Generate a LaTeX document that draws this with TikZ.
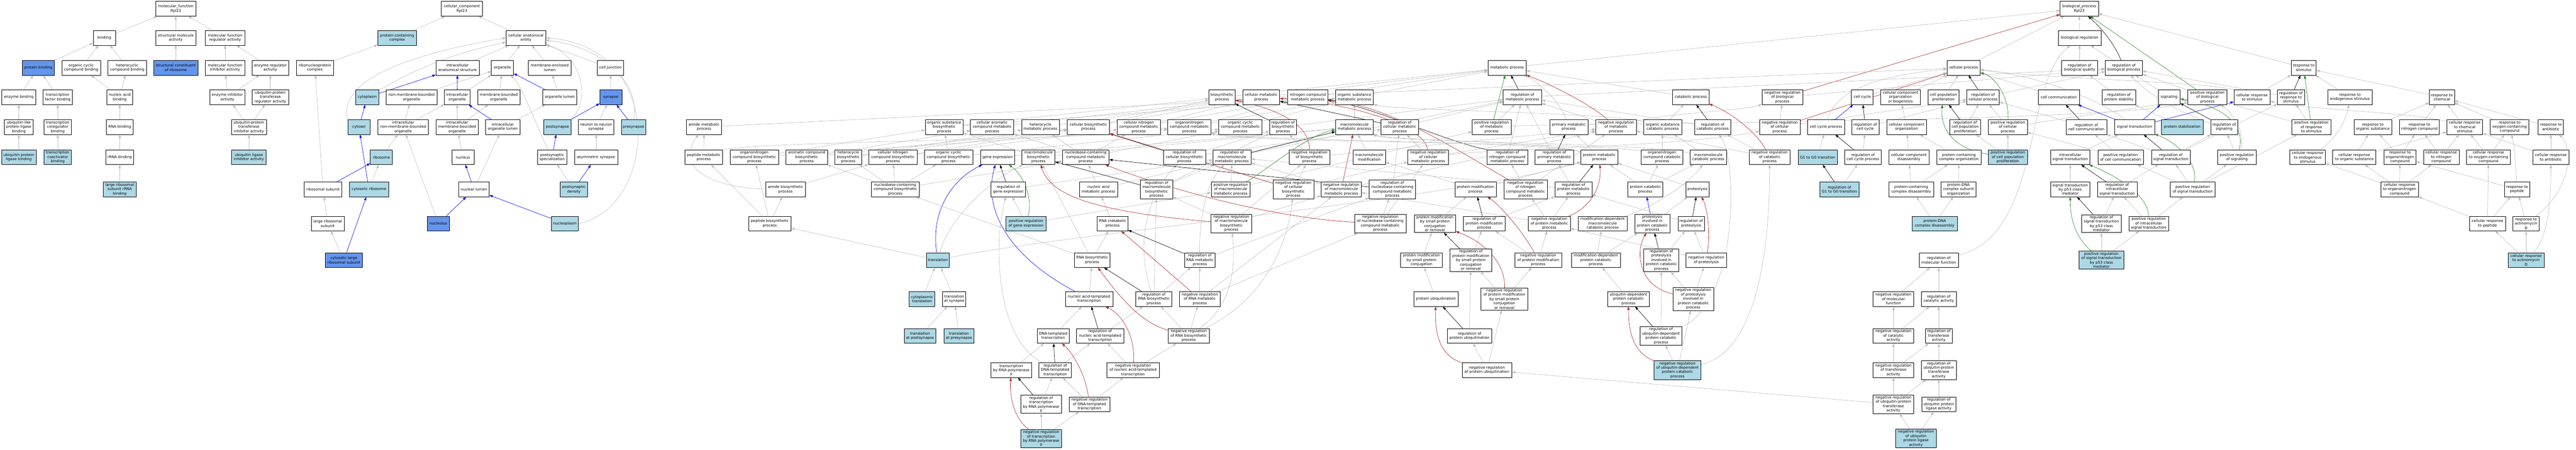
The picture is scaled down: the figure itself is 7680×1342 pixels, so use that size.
\documentclass[tikz,border=0pt]{standalone}
\usepackage{fontspec}
\setmainfont{DejaVu Sans}
\usetikzlibrary{arrows.meta, backgrounds}
\definecolor{edgegray}{RGB}{190,190,190}
\definecolor{hitblue}{RGB}{173,216,230}
\definecolor{coreblue}{RGB}{100,149,237}
\definecolor{posgreen}{RGB}{34,139,34}
\definecolor{negred}{RGB}{178,34,34}
\newcommand{\termfont}{\fontsize{11}{13}\selectfont}
\tikzstyle{term} = [rectangle, draw=black, line width=1pt, fill=white, minimum height=44pt, inner xsep=2pt, inner ysep=3pt, align=center, font=\termfont]
\tikzstyle{hitterm} = [term, fill=hitblue]
\tikzstyle{coreterm} = [term, fill=coreblue]
\tikzstyle{arrow} = [draw=edgegray, line width=1pt, -{Triangle[length=10pt, width=7pt]}]
\tikzstyle{partof} = [arrow, draw=blue]
\tikzstyle{regline} = [arrow, draw=black]
\tikzstyle{posline} = [arrow, draw=posgreen]
\tikzstyle{negline} = [arrow, draw=negred]

\begin{document}
\begin{tikzpicture}[x=1pt, y=-1pt]
	\useasboundingbox (0,0) rectangle (7680,1342);
	%----------------------------------------------------%
	% molecular function
	\node(mf) [term, minimum width=119] at (524,26) {molecular\_function\\Rpl23};
	\node(bind) [term, minimum width=66] at (311,113) {binding};
	\node(sma) [term, minimum width=120] at (524,113) {structural molecule\\activity};
	\node(mfra) [term, minimum width=117] at (671,113) {molecular function\\regulator activity};
	\node(pbind) [coreterm, minimum width=95] at (114,202) {protein binding};
	\node(occb) [term, minimum width=115] at (242,202) {organic cyclic\\compound binding};
	\node(hcb) [term, minimum width=115] at (379,202) {heterocyclic\\compound binding};
	\node(scr) [coreterm, minimum width=132] at (524,202) {structural constituent\\of ribosome};
	\node(mfia) [term, minimum width=117] at (671,202) {molecular function\\inhibitor activity};
	\node(era) [term, minimum width=110] at (806,202) {enzyme regulator\\activity};
	\node(ebind) [term, minimum width=101] at (56,290) {enzyme binding};
	\node(tfbind) [term, minimum width=88] at (172,290) {transcription\\factor binding};
	\node(nabind) [term, minimum width=76] at (357,290) {nucleic acid\\binding};
	\node(eia) [term, minimum width=105] at (678,290) {enzyme inhibitor\\activity};
	\node(uptra) [term, minimum width=108] at (806,290) {ubiquitin-protein\\transferase\\regulator activity};
	\node(ulplb) [term, minimum width=86] at (56,379) {ubiquitin-like\\protein ligase\\binding};
	\node(tcrb) [term, minimum width=81] at (172,379) {transcription\\coregulator\\binding};
	\node(rnabind) [term, minimum width=79] at (357,379) {RNA binding};
	\node(uptia) [term, minimum width=105] at (742,379) {ubiquitin-protein\\transferase\\inhibitor activity};
	\node(uplb) [hitterm, minimum width=103] at (56,469) {ubiquitin protein\\ligase binding};
	\node(tcab) [hitterm, minimum width=81] at (172,469) {transcription\\coactivator\\binding};
	\node(rrnabind) [term, minimum width=83] at (357,469) {rRNA binding};
	\node(ulia) [hitterm, minimum width=103] at (742,469) {ubiquitin ligase\\inhibitor activity};
	\node(lrsrb) [hitterm, minimum width=98] at (357,565) {large ribosomal\\subunit rRNA\\binding};
	%----------------------------------------------------%
	% cellular component
	\node(cc) [term, minimum width=122] at (1377,26) {cellular\_component\\Rpl23};
	\node(pcc) [hitterm, minimum width=115] at (1184,113) {protein-containing\\complex};
	\node(cae) [term, minimum width=119] at (1568,113) {cellular anatomical\\entity};
	\node(rnpc) [term, minimum width=110] at (939,202) {ribonucleoprotein\\complex};
	\node(ias) [term, minimum width=129] at (1364,202) {intracellular\\anatomical structure};
	\node(organelle) [term, minimum width=66] at (1498,202) {organelle};
	\node(mel) [term, minimum width=127] at (1639,202) {membrane-enclosed\\lumen};
	\node(celljunc) [term, minimum width=78] at (1820,202) {cell junction};
	\node(cytoplasm) [hitterm, minimum width=68] at (1095,290) {cytoplasm};
	\node(nmbo) [term, minimum width=152] at (1227,290) {non-membrane-bounded\\organelle};
	\node(iorg) [term, minimum width=76] at (1363,290) {intracellular\\organelle};
	\node(mbo) [term, minimum width=126] at (1487,290) {membrane-bounded\\organelle};
	\node(orglumen) [term, minimum width=102] at (1669,290) {organelle lumen};
	\node(synapse) [coreterm, minimum width=66] at (1821,290) {synapse};
	\node(cytosol) [hitterm, minimum width=66] at (1070,379) {cytosol};
	\node(inmbo) [term, minimum width=151] at (1202,379) {intracellular\\non-membrane-bounded\\organelle};
	\node(imbo) [term, minimum width=127] at (1363,379) {intracellular\\membrane-bounded\\organelle};
	\node(iol) [term, minimum width=102] at (1499,379) {intracellular\\organelle lumen};
	\node(postsyn) [hitterm, minimum width=81] at (1662,379) {postsynapse};
	\node(nnsyn) [term, minimum width=107] at (1777,379) {neuron to neuron\\synapse};
	\node(presyn) [hitterm, minimum width=73] at (1889,379) {presynapse};
	\node(ribosome) [hitterm, minimum width=66] at (1137,469) {ribosome};
	\node(nucleus) [term, minimum width=66] at (1380,469) {nucleus};
	\node(pss) [term, minimum width=88] at (1646,469) {postsynaptic\\specialization};
	\node(asyn) [term, minimum width=129] at (1777,469) {asymmetric synapse};
	\node(rsu) [term, minimum width=112] at (963,565) {ribosomal subunit};
	\node(cribo) [hitterm, minimum width=117] at (1100,565) {cytosolic ribosome};
	\node(nlumen) [term, minimum width=91] at (1413,565) {nuclear lumen};
	\node(psd) [hitterm, minimum width=82] at (1711,565) {postsynaptic\\density};
	\node(lrsu) [term, minimum width=98] at (977,667) {large ribosomal\\subunit};
	\node(nucleolus) [coreterm, minimum width=65] at (1307,667) {nucleolus};
	\node(nucleoplasm) [hitterm, minimum width=81] at (1684,667) {nucleoplasm};
	\node(clrsu) [coreterm, minimum width=112] at (1025,776) {cytosolic large\\ribosomal subunit};
	%----------------------------------------------------%
	% biological process
	\node(bp) [term, minimum width=114] at (6199,26) {biological\_process\\Rpl23};
	\node(bioreg) [term, minimum width=127] at (6200,113) {biological regulation};
	\node(metab) [term, minimum width=114] at (4493,202) {metabolic process};
	\node(cellproc) [term, minimum width=99] at (5854,202) {cellular process};
	\node(rbq) [term, minimum width=108] at (6200,202) {regulation of\\biological quality};
	\node(rbp) [term, minimum width=111] at (6332,202) {regulation of\\biological process};
	\node(respstim) [term, minimum width=75] at (6868,202) {response to\\stimulus};
	% rank 3
	\node(biosyn) [term, minimum width=78] at (3643,290) {biosynthetic\\process};
	\node(cellmet) [term, minimum width=110] at (3760,290) {cellular metabolic\\process};
	\node(ncmp) [term, minimum width=119] at (3899,290) {nitrogen compound\\metabolic process};
	\node(osmp) [term, minimum width=113] at (4038,290) {organic substance\\metabolic process};
	\node(regmet) [term, minimum width=115] at (4539,290) {regulation of\\metabolic process};
	\node(catab) [term, minimum width=108] at (5041,290) {catabolic process};
	\node(nrbp) [term, minimum width=121] at (5314,290) {negative regulation\\of biological\\process};
	\node(cellcycle) [term, minimum width=64] at (5552,290) {cell cycle};
	\node(ccob) [term, minimum width=118] at (5666,290) {cellular component\\organization\\or biogenesis};
	\node(cpp) [term, minimum width=92] at (5794,290) {cell population\\proliferation};
	\node(rcp) [term, minimum width=97] at (5912,290) {regulation of\\cellular process};
	\node(cellcomm) [term, minimum width=123] at (6138,290) {cell communication};
	\node(rps) [term, minimum width=99] at (6317,290) {regulation of\\protein stability};
	\node(signaling) [term, minimum width=65] at (6467,290) {signaling};
	\node(prbp) [term, minimum width=116] at (6581,290) {positive regulation\\of biological\\process};
	\node(crstim) [term, minimum width=108] at (6714,290) {cellular response\\to stimulus};
	\node(rrstim) [term, minimum width=81] at (6830,290) {regulation of\\response to\\stimulus};
	\node(rendo) [term, minimum width=132] at (7006,290) {response to\\endogenous stimulus};
	\node(rchem) [term, minimum width=75] at (7280,290) {response to\\chemical};
	% rank 4
	\node(amidemet) [term, minimum width=105] at (2099,379) {amide metabolic\\process};
	\node(osbio) [term, minimum width=112] at (2815,379) {organic substance\\biosynthetic\\process};
	\node(camet) [term, minimum width=129] at (2958,379) {cellular aromatic\\compound metabolic\\process};
	\node(hetmet) [term, minimum width=112] at (3102,379) {heterocycle\\metabolic process};
	\node(cellbio) [term, minimum width=126] at (3245,379) {cellular biosynthetic\\process};
	\node(cncmet) [term, minimum width=128] at (3395,379) {cellular nitrogen\\compound metabolic\\process};
	\node(oncmet) [term, minimum width=129] at (3546,379) {organonitrogen\\compound metabolic\\process};
	\node(occmet) [term, minimum width=129] at (3698,379) {organic cyclic\\compound metabolic\\process};
	\node(rbio) [term, minimum width=81] at (3825,379) {regulation of\\biosynthetic\\process};
	\node(mmet) [term, minimum width=113] at (4038,379) {macromolecule\\metabolic process};
	\node(rcmet) [term, minimum width=111] at (4173,379) {regulation of\\cellular metabolic\\process};
	\node(prmet) [term, minimum width=116] at (4447,379) {positive regulation\\of metabolic\\process};
	\node(primet) [term, minimum width=114] at (4677,379) {primary metabolic\\process};
	\node(nrmet) [term, minimum width=121] at (4818,379) {negative regulation\\of metabolic\\process};
	\node(oscat) [term, minimum width=114] at (4957,379) {organic substance\\catabolic process};
	\node(rcat) [term, minimum width=108] at (5106,379) {regulation of\\catabolic process};
	\node(nrcp) [term, minimum width=121] at (5306,379) {negative regulation\\of cellular\\process};
	\node(ccproc) [term, minimum width=111] at (5444,379) {cell cycle process};
	\node(rcc) [term, minimum width=81] at (5561,379) {regulation of\\cell cycle};
	\node(cco) [term, minimum width=118] at (5684,379) {cellular component\\organization};
	\node(rcpp) [term, minimum width=92] at (5859,379) {regulation of\\cell population\\proliferation};
	\node(prcp) [term, minimum width=116] at (5986,379) {positive regulation\\of cellular\\process};
	\node(rccomm) [term, minimum width=121] at (6220,379) {regulation of\\cell communication};
	\node(sigtrans) [term, minimum width=119] at (6364,379) {signal transduction};
	\node(pstab) [hitterm, minimum width=124] at (6506,379) {protein stabilization};
	\node(rsig) [term, minimum width=80] at (6631,379) {regulation of\\signaling};
	\node(prrstim) [term, minimum width=117] at (6891,379) {positive regulation\\of response\\to stimulus};
	\node(rorg) [term, minimum width=112] at (7074,379) {response to\\organic substance};
	\node(rnitro) [term, minimum width=119] at (7213,379) {response to\\nitrogen compound};
	\node(crchem) [term, minimum width=107] at (7348,379) {cellular response\\to chemical\\stimulus};
	\node(roxy) [term, minimum width=115] at (7482,379) {response to\\oxygen-containing\\compound};
	\node(ranti) [term, minimum width=75] at (7605,379) {response to\\antibiotic};
	% rank 5
	\node(pepmet) [term, minimum width=112] at (2098,469) {peptide metabolic\\process};
	\node(oncbio) [term, minimum width=145] at (2249,469) {organonitrogen\\compound biosynthetic\\process};
	\node(acbio) [term, minimum width=124] at (2405,469) {aromatic compound\\biosynthetic\\process};
	\node(hetbio) [term, minimum width=79] at (2529,469) {heterocycle\\biosynthetic\\process};
	\node(cncbio) [term, minimum width=144] at (2662,469) {cellular nitrogen\\compound biosynthetic\\process};
	\node(occbio) [term, minimum width=144] at (2828,469) {organic cyclic\\compound biosynthetic\\process};
	\node(genexp) [term, minimum width=102] at (2974,469) {gene expression};
	\node(mbio) [term, minimum width=98] at (3096,469) {macromolecule\\biosynthetic\\process};
	\node(ncmet) [term, minimum width=139] at (3237,469) {nucleobase-containing\\compound metabolic\\process};
	\node(rcbio) [term, minimum width=126] at (3531,469) {regulation of\\cellular biosynthetic\\process};
	\node(rmmet) [term, minimum width=114] at (3673,469) {regulation of\\macromolecule\\metabolic process};
	\node(nrbio) [term, minimum width=121] at (3904,469) {negative regulation\\of biosynthetic\\process};
	\node(mmod) [term, minimum width=97] at (4082,469) {macromolecule\\modification};
	\node(nrcmet) [term, minimum width=121] at (4258,469) {negative regulation\\of cellular\\metabolic process};
	\node(rncmet) [term, minimum width=120] at (4494,469) {regulation of\\nitrogen compound\\metabolic process};
	\node(rprimet) [term, minimum width=115] at (4634,469) {regulation of\\primary metabolic\\process};
	\node(protmet) [term, minimum width=110] at (4768,469) {protein metabolic\\process};
	\node(onccat) [term, minimum width=124] at (4955,469) {organonitrogen\\compound catabolic\\process};
	\node(mcat) [term, minimum width=108] at (5093,469) {macromolecule\\catabolic process};
	\node(nrcat) [term, minimum width=121] at (5276,469) {negative regulation\\of catabolic\\process};
	\node(g1g0) [hitterm, minimum width=117] at (5419,469) {G1 to G0 transition};
	\node(rccp) [term, minimum width=110] at (5554,469) {regulation of\\cell cycle process};
	\node(ccdis) [term, minimum width=119] at (5691,469) {cellular component\\disassembly};
	\node(pcco) [term, minimum width=133] at (5840,469) {protein-containing\\complex organization};
	\node(prcpp) [hitterm, minimum width=117] at (5986,469) {positive regulation\\of cell population\\proliferation};
	\node(ist) [term, minimum width=118] at (6172,469) {intracellular\\signal transduction};
	\node(prccomm) [term, minimum width=135] at (6322,469) {positive regulation\\of cell communication};
	\node(rst) [term, minimum width=116] at (6472,469) {regulation of\\signal transduction};
	\node(prsig) [term, minimum width=116] at (6669,469) {positive regulation\\of signaling};
	\node(crendo) [term, minimum width=106] at (6880,469) {cellular response\\to endogenous\\stimulus};
	\node(crorg) [term, minimum width=129] at (7019,469) {cellular response\\to organic substance};
	\node(ronc) [term, minimum width=95] at (7155,469) {response to\\organonitrogen\\compound};
	\node(crnitro) [term, minimum width=106] at (7278,469) {cellular response\\to nitrogen\\compound};
	\node(croxy) [term, minimum width=131] at (7419,469) {cellular response\\to oxygen-containing\\compound};
	\node(cranti) [term, minimum width=107] at (7605,469) {cellular response\\to antibiotic};
	% rank 6
	\node(amidebio) [term, minimum width=119] at (2342,565) {amide biosynthetic\\process};
	\node(ncbio) [term, minimum width=143] at (2669,565) {nucleobase-containing\\compound biosynthetic\\process};
	\node(rge) [term, minimum width=103] at (3006,565) {regulation of\\gene expression};
	\node(nameta) [term, minimum width=114] at (3275,565) {nucleic acid\\metabolic process};
	\node(rmbio) [term, minimum width=97] at (3448,565) {regulation of\\macromolecule\\biosynthetic\\process};
	\node(prmmet) [term, minimum width=116] at (3669,565) {positive regulation\\of macromolecule\\metabolic process};
	\node(nrcbio) [term, minimum width=121] at (3856,565) {negative regulation\\of cellular\\biosynthetic\\process};
	\node(nrmmet) [term, minimum width=120] at (3999,565) {negative regulation\\of macromolecule\\metabolic process};
	\node(rnbmet) [term, minimum width=138] at (4151,565) {regulation of\\nucleobase-containing\\compound metabolic\\process};
	\node(protmod) [term, minimum width=123] at (4399,565) {protein modification\\process};
	\node(nrncmet) [term, minimum width=129] at (4548,565) {negative regulation\\of nitrogen\\compound metabolic\\process};
	\node(rprotmet) [term, minimum width=110] at (4691,565) {regulation of\\protein metabolic\\process};
	\node(protcat) [term, minimum width=105] at (4905,565) {protein catabolic\\process};
	\node(proteolysis) [term, minimum width=70] at (5061,565) {proteolysis};
	\node(rg1g0) [hitterm, minimum width=117] at (5484,565) {regulation of\\G1 to G0 transition};
	\node(pccdis) [term, minimum width=134] at (5698,565) {protein-containing\\complex disassembly};
	\node(pdcso) [term, minimum width=105] at (5839,565) {protein-DNA\\complex subunit\\organization};
	\node(stp53) [term, minimum width=118] at (6172,565) {signal transduction\\by p53 class\\mediator};
	\node(rist) [term, minimum width=118] at (6312,565) {regulation of\\intracellular\\signal transduction};
	\node(prst) [term, minimum width=133] at (6537,565) {positive regulation\\of signal transduction};
	\node(cronc) [term, minimum width=112] at (7154,565) {cellular response\\to organonitrogen\\compound};
	\node(rpep) [term, minimum width=75] at (7504,565) {response to\\peptide};
	% rank 7
	\node(pepbio) [term, minimum width=126] at (2295,667) {peptide biosynthetic\\process};
	\node(prge) [hitterm, minimum width=119] at (3059,667) {positive regulation\\of gene expression};
	\node(rnamet) [term, minimum width=92] at (3317,667) {RNA metabolic\\process};
	\node(nrmbio) [term, minimum width=121] at (3671,667) {negative regulation\\of macromolecule\\biosynthetic\\process};
	\node(nrnbmet) [term, minimum width=154] at (4115,667) {negative regulation\\of nucleobase-containing\\compound metabolic\\process};
	\node(pmspcr) [term, minimum width=124] at (4278,667) {protein modification\\by small protein\\conjugation\\or removal};
	\node(rprotmod) [term, minimum width=124] at (4425,667) {regulation of\\protein modification\\process};
	\node(nrprotmet) [term, minimum width=126] at (4619,667) {negative regulation\\of protein metabolic\\process};
	\node(mdmcat) [term, minimum width=146] at (4778,667) {modification-dependent\\macromolecule\\catabolic process};
	\node(pipcat) [term, minimum width=105] at (4926,667) {proteolysis\\involved in\\protein catabolic\\process};
	\node(rprot) [term, minimum width=79] at (5042,667) {regulation of\\proteolysis};
	\node(pdnadis) [hitterm, minimum width=134] at (5768,667) {protein-DNA\\complex disassembly};
	\node(rstp53) [term, minimum width=118] at (6265,667) {regulation of\\signal transduction\\by p53 class\\mediator};
	\node(prist) [term, minimum width=118] at (6406,667) {positive regulation\\of intracellular\\signal transduction};
	\node(crpep) [term, minimum width=107] at (7416,667) {cellular response\\to peptide};
	\node(ractd) [term, minimum width=79] at (7531,667) {response to\\actinomycin\\D};
	% rank 8
	\node(transl) [hitterm, minimum width=69] at (2796,776) {translation};
	\node(rnabio) [term, minimum width=107] at (3256,776) {RNA biosynthetic\\process};
	\node(rrnamet) [term, minimum width=92] at (3577,776) {regulation of\\RNA metabolic\\process};
	\node(pmspc) [term, minimum width=124] at (4238,776) {protein modification\\by small protein\\conjugation};
	\node(rpmspcr) [term, minimum width=124] at (4385,776) {regulation of\\protein modification\\by small protein\\conjugation\\or removal};
	\node(nrprotmod) [term, minimum width=140] at (4586,776) {negative regulation\\of protein modification\\process};
	\node(mdpcat) [term, minimum width=146] at (4758,776) {modification-dependent\\protein catabolic\\process};
	\node(rpipcat) [term, minimum width=104] at (4953,776) {regulation of\\proteolysis\\involved in\\protein catabolic\\process};
	\node(nrprot) [term, minimum width=121] at (5087,776) {negative regulation\\of proteolysis};
	\node(rmf) [term, minimum width=116] at (5780,776) {regulation of\\molecular function};
	\node(prstp53) [hitterm, minimum width=133] at (6265,776) {positive regulation\\of signal transduction\\by p53 class\\mediator};
	\node(cractd) [hitterm, minimum width=107] at (7531,776) {cellular response\\to actinomycin\\D};
	% rank 9
	\node(cyttransl) [hitterm, minimum width=77] at (2749,892) {cytoplasmic\\translation};
	\node(translsyn) [term, minimum width=69] at (2845,892) {translation\\at synapse};
	\node(nattr) [term, minimum width=141] at (3247,892) {nucleic acid-templated\\transcription};
	\node(rrnabio) [term, minimum width=108] at (3440,892) {regulation of\\RNA biosynthetic\\process};
	\node(nrrnamet) [term, minimum width=121] at (3577,892) {negative regulation\\of RNA metabolic\\process};
	\node(protubiq) [term, minimum width=133] at (4281,892) {protein ubiquitination};
	\node(nrpmspcr) [term, minimum width=140] at (4485,892) {negative regulation\\of protein modification\\by small protein\\conjugation\\or removal};
	\node(upcat) [term, minimum width=123] at (4855,892) {ubiquitin-dependent\\protein catabolic\\process};
	\node(nrpipcat) [term, minimum width=121] at (5048,892) {negative regulation\\of proteolysis\\involved in\\protein catabolic\\process};
	\node(nrmf) [term, minimum width=121] at (5645,892) {negative regulation\\of molecular\\function};
	\node(rca) [term, minimum width=104] at (5780,892) {regulation of\\catalytic activity};
	% rank 10
	\node(translpost) [hitterm, minimum width=94] at (2743,1002) {translation\\at postsynapse};
	\node(translpre) [hitterm, minimum width=90] at (2859,1002) {translation\\at presynapse};
	\node(dnatr) [term, minimum width=95] at (3140,1002) {DNA-templated\\transcription};
	\node(rnattr) [term, minimum width=141] at (3280,1002) {regulation of\\nucleic acid-templated\\transcription};
	\node(nrrnabio) [term, minimum width=122] at (3544,1002) {negative regulation\\of RNA biosynthetic\\process};
	\node(rprotubiq) [term, minimum width=132] at (4381,1002) {regulation of\\protein ubiquitination};
	\node(rupcat) [term, minimum width=124] at (4952,1002) {regulation of\\ubiquitin-dependent\\protein catabolic\\process};
	\node(nrca) [term, minimum width=121] at (5645,1002) {negative regulation\\of catalytic\\activity};
	\node(rta) [term, minimum width=80] at (5780,1002) {regulation of\\transferase\\activity};
	% rank 11
	\node(trp2) [term, minimum width=122] at (3015,1104) {transcription\\by RNA polymerase\\II};
	\node(rdnatr) [term, minimum width=97] at (3146,1104) {regulation of\\DNA-templated\\transcription};
	\node(nrnattr) [term, minimum width=156] at (3378,1104) {negative regulation\\of nucleic acid-templated\\transcription};
	\node(nrprotubiq) [term, minimum width=148] at (4433,1104) {negative regulation\\of protein ubiquitination};
	\node(nrupcat) [hitterm, minimum width=141] at (5001,1104) {negative regulation\\of ubiquitin-dependent\\protein catabolic\\process};
	\node(nrta) [term, minimum width=121] at (5645,1104) {negative regulation\\of transferase\\activity};
	\node(rupta) [term, minimum width=104] at (5780,1104) {regulation of\\ubiquitin-protein\\transferase\\activity};
	% rank 12 and 13
	\node(rtrp2) [term, minimum width=122] at (3104,1206) {regulation of\\transcription\\by RNA polymerase\\II};
	\node(nrdnatr) [term, minimum width=122] at (3248,1206) {negative regulation\\of DNA-templated\\transcription};
	\node(nrupta) [term, minimum width=121] at (5645,1206) {negative regulation\\of ubiquitin-protein\\transferase\\activity};
	\node(rupla) [term, minimum width=102] at (5780,1206) {regulation of\\ubiquitin protein\\ligase activity};
	\node(nrtrp2) [hitterm, minimum width=122] at (3104,1308) {negative regulation\\of transcription\\by RNA polymerase\\II};
	\node(nrupla) [hitterm, minimum width=121] at (5712,1308) {negative regulation\\of ubiquitin\\protein ligase\\activity};

	\begin{pgfonlayer}{background}
	\fill[white] (0,0) rectangle (7680,1342);
	%----------------------------------------------------%
	% molecular function edges
	\draw[arrow] (bind) -- (mf);
	\draw[arrow] (sma) -- (mf);
	\draw[arrow] (mfra) -- (mf);
	\draw[arrow] (pbind) -- (bind);
	\draw[arrow] (occb) -- (bind);
	\draw[arrow] (hcb) -- (bind);
	\draw[arrow] (scr) -- (sma);
	\draw[arrow] (mfia) -- (mfra);
	\draw[arrow] (era) -- (mfra);
	\draw[arrow] (ebind) -- (pbind);
	\draw[arrow] (tfbind) -- (pbind);
	\draw[arrow] (nabind) -- (occb);
	\draw[arrow] (nabind) -- (hcb);
	\draw[arrow] (eia) -- (mfia);
	\draw[arrow] (eia) -- (era);
	\draw[arrow] (uptra) -- (era);
	\draw[arrow] (ulplb) -- (ebind);
	\draw[arrow] (tcrb) -- (tfbind);
	\draw[arrow] (rnabind) -- (nabind);
	\draw[arrow] (uptia) -- (eia);
	\draw[arrow] (uptia) -- (uptra);
	\draw[arrow] (uplb) -- (ulplb);
	\draw[arrow] (tcab) -- (tcrb);
	\draw[arrow] (rrnabind) -- (rnabind);
	\draw[arrow] (ulia) -- (uptia);
	\draw[arrow] (lrsrb) -- (rrnabind);
	%----------------------------------------------------%
	% cellular component edges
	\draw[arrow] (pcc) -- (cc);
	\draw[arrow] (cae) -- (cc);
	\draw[arrow] (rnpc) -- (pcc);
	\draw[arrow] (ias) -- (cae);
	\draw[arrow] (organelle) -- (cae);
	\draw[arrow] (mel) -- (cae);
	\draw[arrow] (celljunc) -- (cae);
	\draw[arrow] (cytoplasm) .. controls (1250,200) and (1350,160) .. (cae);
	\draw[arrow] (cytosol.north west) .. controls (1020,300) and (1050,190) .. (cae.west);
	\draw[arrow] (postsyn.north east) .. controls (1760,300) and (1740,170) .. (cae);
	\draw[arrow] (presyn.north) .. controls (1910,250) and (1800,140) .. (cae);
	\draw[arrow] (nucleoplasm.east) .. controls (1960,620) and (1990,140) .. (cae.east);
	\draw[arrow] (nmbo) -- (organelle);
	\draw[arrow] (iorg) -- (organelle);
	\draw[arrow] (mbo) -- (organelle);
	\draw[arrow] (pss) .. controls (1600,380) and (1560,260) .. (organelle);
	\draw[arrow] (orglumen) -- (mel);
	\draw[arrow] (synapse) -- (celljunc);
	\draw[arrow] (inmbo) -- (nmbo);
	\draw[arrow] (inmbo) -- (iorg);
	\draw[arrow] (imbo) -- (iorg);
	\draw[arrow] (imbo) -- (mbo);
	\draw[arrow] (iol) -- (orglumen);
	\draw[arrow] (nnsyn) -- (synapse);
	\draw[arrow] (ribosome) -- (inmbo);
	\draw[arrow] (nucleus) -- (imbo);
	\draw[arrow] (asyn) -- (nnsyn);
	\draw[arrow] (rsu) -- (rnpc);
	\draw[arrow] (cribo) -- (ribosome);
	\draw[arrow] (nlumen) -- (iol);
	\draw[arrow] (psd) -- (pss);
	\draw[arrow] (lrsu) -- (rsu);
	\draw[arrow] (nucleolus) -- (inmbo);
	\draw[arrow] (clrsu) -- (lrsu);
	\draw[partof] (cytoplasm) -- (ias);
	\draw[partof] (iorg) -- (ias);
	\draw[partof] (orglumen) -- (organelle);
	\draw[partof] (iol) -- (iorg);
	\draw[partof] (postsyn) -- (synapse);
	\draw[partof] (presyn) -- (synapse);
	\draw[partof] (cytosol) -- (cytoplasm);
	\draw[partof] (rsu) -- (ribosome);
	\draw[partof] (cribo) -- (cytosol);
	\draw[partof] (nlumen) -- (nucleus);
	\draw[partof] (pss) -- (postsyn);
	\draw[partof] (psd) -- (asyn);
	\draw[partof] (clrsu) -- (cribo);
	\draw[partof] (nucleolus) -- (nlumen);
	\draw[partof] (nucleoplasm) -- (nlumen);
	%----------------------------------------------------%
	% biological process edges, top
	\draw[arrow] (bioreg) -- (bp);
	\draw[arrow] (metab) -- (bp);
	\draw[arrow] (cellproc) -- (bp);
	\draw[arrow] (respstim) -- (bp);
	\draw[arrow] (signaling) -- (rbp);
	\draw[arrow] (rbq) -- (bioreg);
	\draw[arrow] (rbp) -- (bioreg);
	\draw[regline] (rbp) .. controls (6300,120) and (6250,70) .. (bp);
	\draw[posline] (prbp) -- (bp);
	\draw[negline] (nrbp) -- (bp);
	\draw[arrow] (biosyn) -- (metab);
	\draw[arrow] (cellmet) -- (metab);
	\draw[arrow] (ncmp) -- (metab);
	\draw[arrow] (osmp) -- (metab);
	\draw[arrow] (primet) .. controls (4650,300) and (4580,240) .. (metab);
	\draw[arrow] (catab) -- (metab);
	\draw[arrow] (cellmet) -- (cellproc);
	%----------------------------------------------------%
	% biosynthesis and metabolism
	\draw[arrow] (amidemet) -- (ncmp);
	\draw[arrow] (pepmet) -- (amidemet);
	\draw[arrow] (pepmet.north east) .. controls (2300,420) and (3200,420) .. (oncmet);
	\draw[arrow] (oncbio) -- (osbio);
	\draw[arrow] (oncbio) -- (oncmet);
	\draw[arrow] (acbio) -- (camet);
	\draw[arrow] (acbio) -- (cellbio);
	\draw[arrow] (hetbio) -- (hetmet);
	\draw[arrow] (hetbio) -- (cellbio);
	\draw[arrow] (cncbio) -- (cncmet);
	\draw[arrow] (cncbio) -- (cellbio);
	\draw[arrow] (occbio) -- (osbio);
	\draw[arrow] (occbio) -- (occmet);
	\draw[arrow] (genexp) -- (mmet);
	\draw[arrow] (mbio) -- (osbio);
	\draw[arrow] (mbio) -- (mmet);
	\draw[arrow] (amidebio) .. controls (2120,560) and (2010,500) .. (amidemet);
	\draw[arrow] (amidebio) -- (cncbio);
	\draw[arrow] (ncbio) -- (acbio);
	\draw[arrow] (ncbio) -- (hetbio);
	\draw[arrow] (ncbio) -- (cncbio);
	\draw[arrow] (ncbio) -- (occbio);
	\draw[arrow] (ncbio) -- (ncmet);
	\draw[arrow] (rge) -- (rmmet);
	\draw[arrow] (pepbio) -- (amidebio);
	\draw[arrow] (pepbio) -- (pepmet);
	\draw[arrow] (pepbio) -- (oncbio);
	\draw[arrow] (prge) -- (rge);
	\draw[arrow] (prge) -- (prmmet);
	\draw[arrow] (transl) -- (pepbio);
	\draw[arrow] (transl) .. controls (2830,650) and (2950,540) .. (mbio);
	\draw[arrow] (transl) .. controls (3150,700) and (4300,600) .. (protmet);
	\draw[partof] (transl) .. controls (2775,640) and (2830,540) .. (genexp);
	\draw[arrow] (cyttransl) -- (transl);
	\draw[arrow] (translsyn) -- (transl);
	\draw[arrow] (translpost) -- (translsyn);
	\draw[arrow] (translpre) -- (translsyn);
	\draw[arrow] (osbio) -- (biosyn);
	\draw[arrow] (osbio) -- (osmp);
	\draw[arrow] (camet) -- (cellmet);
	\draw[arrow] (hetmet) -- (cellmet);
	\draw[arrow] (cellbio) -- (biosyn);
	\draw[arrow] (cellbio) -- (cellmet);
	\draw[arrow] (cncmet) -- (ncmp);
	\draw[arrow] (cncmet) -- (cellmet);
	\draw[arrow] (oncmet) -- (ncmp);
	\draw[arrow] (oncmet) -- (osmp);
	\draw[arrow] (occmet) -- (osmp);
	\draw[arrow] (mmet) -- (osmp);
	\draw[arrow] (ncmet) -- (hetmet);
	\draw[arrow] (ncmet) -- (camet);
	\draw[arrow] (ncmet) -- (cncmet);
	\draw[arrow] (ncmet) -- (occmet);
	\draw[arrow] (nameta) -- (ncmet);
	\draw[arrow] (nameta) -- (mmet);
	\draw[arrow] (rnamet) -- (nameta);
	\draw[arrow] (rnabio) -- (rnamet);
	\draw[arrow] (rnabio) -- (ncbio);
	\draw[arrow] (rnabio) -- (mbio);
	\draw[arrow] (nattr) -- (rnabio);
	\draw[partof] (nattr) .. controls (3000,760) and (2930,620) .. (genexp);
	\draw[arrow] (dnatr) -- (nattr);
	\draw[arrow] (trp2) -- (dnatr);
	\draw[regline] (rge) -- (genexp);
	\draw[posline] (prge) .. controls (3080,590) and (3050,520) .. (genexp);
	%----------------------------------------------------%
	% regulation of biosynthesis and transcription
	\draw[arrow] (rbio) -- (regmet);
	\draw[arrow] (rcbio) -- (rbio);
	\draw[arrow] (rcbio) -- (rcmet);
	\draw[arrow] (rmmet) -- (regmet);
	\draw[arrow] (rcmet) -- (regmet);
	\draw[arrow] (nrbio) -- (rbio);
	\draw[arrow] (nrbio) -- (nrmet);
	\draw[arrow] (mmod) -- (mmet);
	\draw[arrow] (nrcmet) -- (rcmet);
	\draw[arrow] (nrcmet) -- (nrmet);
	\draw[arrow] (nrcmet) .. controls (4500,440) and (5000,440) .. (nrcp);
	\draw[arrow] (rmbio) -- (rmmet);
	\draw[arrow] (rmbio) -- (rbio);
	\draw[arrow] (prmmet) -- (rmmet);
	\draw[arrow] (prmmet) -- (prmet);
	\draw[arrow] (nrcbio) -- (rcbio);
	\draw[arrow] (nrcbio) -- (nrbio);
	\draw[arrow] (nrcbio) -- (nrcmet);
	\draw[arrow] (nrmmet) -- (rmmet);
	\draw[arrow] (nrmmet) -- (nrmet);
	\draw[arrow] (rnbmet) -- (rcmet);
	\draw[arrow] (nrmbio) -- (rmbio);
	\draw[arrow] (nrmbio) -- (nrbio);
	\draw[arrow] (nrmbio) -- (nrmmet);
	\draw[arrow] (nrnbmet) -- (rnbmet);
	\draw[arrow] (nrnbmet) -- (nrcmet);
	\draw[arrow] (rrnamet) -- (rnbmet);
	\draw[arrow] (rrnamet) .. controls (3575,640) and (3600,540) .. (rmmet);
	\draw[arrow] (nrrnamet) -- (rrnamet);
	\draw[arrow] (nrrnamet) -- (nrnbmet);
	\draw[arrow] (nrrnamet) -- (nrmmet);
	\draw[arrow] (rrnabio) -- (rrnamet);
	\draw[arrow] (rrnabio) -- (rmbio);
	\draw[arrow] (rrnabio) .. controls (3375,700) and (3440,560) .. (rcbio);
	\draw[arrow] (nrrnabio) -- (rrnabio);
	\draw[arrow] (nrrnabio) -- (nrrnamet);
	\draw[arrow] (nrrnabio) .. controls (3690,900) and (3680,760) .. (nrmbio);
	\draw[arrow] (nrrnabio) .. controls (3800,880) and (3845,680) .. (nrcbio);
	\draw[arrow] (rnattr) -- (rrnabio);
	\draw[arrow] (nrnattr) -- (rnattr);
	\draw[arrow] (nrnattr) -- (nrrnabio);
	\draw[arrow] (rdnatr) -- (rnattr);
	\draw[arrow] (rdnatr) .. controls (2960,1000) and (2965,700) .. (rge);
	\draw[arrow] (nrdnatr) -- (rdnatr);
	\draw[arrow] (nrdnatr) -- (nrnattr);
	\draw[arrow] (rtrp2) -- (rdnatr);
	\draw[arrow] (nrtrp2) -- (rtrp2);
	\draw[arrow] (nrtrp2) -- (nrdnatr);
	\draw[regline] (rbio) -- (biosyn);
	\draw[regline] (rcmet) -- (cellmet);
	\draw[regline] (rncmet.north west) .. controls (4300,420) and (4100,320) .. (ncmp);
	\draw[regline] (rcbio) -- (cellbio);
	\draw[regline] (rmbio) -- (mbio);
	\draw[regline] (rmmet) -- (mmet);
	\draw[regline] (rnbmet) -- (ncmet);
	\draw[regline] (rrnamet) -- (rnamet);
	\draw[regline] (rrnabio) -- (rnabio);
	\draw[regline] (rnattr) -- (nattr);
	\draw[regline] (rdnatr) -- (dnatr);
	\draw[regline] (rtrp2) -- (trp2);
	\draw[posline] (prmmet) .. controls (3760,520) and (3900,400) .. (mmet);
	\draw[negline] (nrbio) .. controls (3905,360) and (3780,320) .. (biosyn);
	\draw[negline] (nrcmet) .. controls (4250,380) and (4050,310) .. (cellmet);
	\draw[negline] (nrncmet) .. controls (4330,440) and (4150,320) .. (ncmp);
	\draw[negline] (nrcbio) -- (cellbio);
	\draw[negline] (nrmbio) .. controls (3250,630) and (3130,580) .. (mbio);
	\draw[negline] (nrrnamet) -- (rnamet);
	\draw[negline] (nrnbmet) .. controls (3800,650) and (3500,570) .. (ncmet);
	\draw[negline] (nrmmet) -- (mmet);
	\draw[negline] (nrrnabio) .. controls (3390,960) and (3320,860) .. (rnabio);
	\draw[negline] (nrnattr) .. controls (3385,1010) and (3350,940) .. (nattr);
	\draw[negline] (nrdnatr) .. controls (3235,1110) and (3195,1050) .. (dnatr);
	\draw[negline] (nrtrp2) .. controls (3025,1250) and (3010,1190) .. (trp2);
	%----------------------------------------------------%
	% metabolism, proteins and catabolism
	\draw[arrow] (regmet) -- (rbp);
	\draw[arrow] (prmet) -- (regmet);
	\draw[arrow] (prmet) .. controls (4700,366) and (6300,366) .. (prbp);
	\draw[arrow] (nrmet) -- (regmet);
	\draw[arrow] (nrmet) .. controls (4950,340) and (5200,330) .. (nrbp);
	\draw[arrow] (rcat) -- (regmet);
	\draw[arrow] (nrcat) -- (rcat);
	\draw[arrow] (nrcat) -- (nrmet);
	\draw[arrow] (oscat) -- (catab);
	\draw[arrow] (oscat) .. controls (4800,335) and (4150,330) .. (osmp);
	\draw[arrow] (onccat) -- (oscat);
	\draw[arrow] (onccat) .. controls (4800,425) and (3700,425) .. (oncmet);
	\draw[arrow] (mcat) -- (oscat);
	\draw[arrow] (mcat) .. controls (4900,425) and (4150,425) .. (mmet);
	\draw[arrow] (nrbp) -- (rbp);
	\draw[arrow] (nrcp) -- (nrbp);
	\draw[arrow] (nrcp) -- (rcp);
	\draw[arrow] (rncmet) -- (regmet);
	\draw[arrow] (rprimet) -- (regmet);
	\draw[arrow] (protmet) -- (primet);
	\draw[arrow] (protmet) .. controls (4600,420) and (3700,420) .. (oncmet);
	\draw[arrow] (protmet) .. controls (4600,420) and (4150,420) .. (mmet);
	\draw[arrow] (protmod) -- (mmod);
	\draw[arrow] (protmod) -- (protmet);
	\draw[arrow] (nrncmet) -- (rncmet);
	\draw[arrow] (nrncmet) -- (nrmet);
	\draw[arrow] (rprotmet) -- (rprimet);
	\draw[arrow] (rprotmet) -- (rmmet);
	\draw[arrow] (protcat) -- (protmet);
	\draw[arrow] (protcat) -- (mcat);
	\draw[arrow] (protcat) -- (onccat);
	\draw[arrow] (proteolysis) -- (protmet);
	\draw[arrow] (pmspcr) -- (protmod);
	\draw[arrow] (rprotmod) -- (rprotmet);
	\draw[arrow] (nrprotmet) -- (rprotmet);
	\draw[arrow] (nrprotmet) -- (nrncmet);
	\draw[arrow] (nrprotmet) -- (nrmmet);
	\draw[arrow] (mdmcat) .. controls (4950,610) and (5040,540) .. (mcat);
	\draw[arrow] (pipcat) -- (proteolysis);
	\draw[arrow] (rprot) -- (rprotmet);
	\draw[arrow] (pmspc) -- (pmspcr);
	\draw[arrow] (rpmspcr) -- (rprotmod);
	\draw[arrow] (nrprotmod) -- (rprotmod);
	\draw[arrow] (nrprotmod) -- (nrprotmet);
	\draw[arrow] (mdpcat) -- (mdmcat);
	\draw[arrow] (mdpcat) -- (pipcat);
	\draw[arrow] (rpipcat) -- (rprot);
	\draw[arrow] (nrprot) -- (rprot);
	\draw[arrow] (nrprot) -- (nrprotmet);
	\draw[arrow] (protubiq) -- (pmspc);
	\draw[arrow] (nrpmspcr) -- (rpmspcr);
	\draw[arrow] (nrpmspcr) -- (nrprotmod);
	\draw[arrow] (upcat) -- (mdpcat);
	\draw[arrow] (nrpipcat) -- (rpipcat);
	\draw[arrow] (nrpipcat) -- (nrprot);
	\draw[arrow] (rprotubiq) -- (rpmspcr);
	\draw[arrow] (rupcat) -- (rpipcat);
	\draw[arrow] (rupcat) .. controls (5185,900) and (5180,470) .. (rcat);
	\draw[arrow] (nrprotubiq) -- (rprotubiq);
	\draw[arrow] (nrprotubiq) -- (nrpmspcr);
	\draw[arrow] (nrupcat) -- (rupcat);
	\draw[arrow] (nrupcat) -- (nrpipcat);
	\draw[arrow] (nrupcat) .. controls (5275,1040) and (5275,600) .. (nrcat);
	\draw[regline] (regmet) -- (metab);
	\draw[regline] (rcat) -- (catab);
	\draw[regline] (rprimet) -- (primet);
	\draw[regline] (rprotmet) -- (protmet);
	\draw[regline] (rprotmod) -- (protmod);
	\draw[regline] (rprot) -- (proteolysis);
	\draw[regline] (rpmspcr) -- (pmspcr);
	\draw[regline] (rpipcat) -- (pipcat);
	\draw[regline] (rprotubiq) -- (protubiq);
	\draw[regline] (rupcat) -- (upcat);
	\draw[partof] (pipcat) -- (protcat);
	\draw[posline] (prmet) -- (metab);
	\draw[negline] (nrmet) .. controls (4740,310) and (4620,250) .. (metab);
	\draw[negline] (nrcat) .. controls (5235,390) and (5150,330) .. (catab);
	\draw[negline] (nrcp) -- (cellproc);
	\draw[negline] (nrprotmet) .. controls (4740,620) and (4775,560) .. (protmet);
	\draw[negline] (nrprotmod) .. controls (4540,690) and (4470,610) .. (protmod);
	\draw[negline] (nrprot) .. controls (5100,690) and (5090,620) .. (proteolysis);
	\draw[negline] (nrpmspcr) .. controls (4488,780) and (4420,720) .. (pmspcr);
	\draw[negline] (nrpipcat) .. controls (4875,850) and (4880,740) .. (pipcat);
	\draw[negline] (nrprotubiq) .. controls (4285,1060) and (4278,980) .. (protubiq);
	\draw[negline] (nrupcat) .. controls (4865,1050) and (4855,980) .. (upcat);
	%----------------------------------------------------%
	% cellular process, signalling, molecular function
	\draw[arrow] (cellcycle) -- (cellproc);
	\draw[arrow] (ccob) -- (cellproc);
	\draw[arrow] (cpp) -- (cellproc);
	\draw[arrow] (cellcomm) -- (cellproc);
	\draw[arrow] (rps) -- (rbq);
	\draw[arrow] (rcp) -- (rbp);
	\draw[arrow] (ccproc) .. controls (5470,270) and (5600,225) .. (cellproc);
	\draw[arrow] (g1g0) -- (ccproc);
	\draw[arrow] (rcc) -- (rcp);
	\draw[arrow] (cco) -- (ccob);
	\draw[arrow] (rcpp) -- (rcp);
	\draw[arrow] (prcp) -- (rcp);
	\draw[arrow] (prcp) -- (prbp);
	\draw[arrow] (rccomm) -- (rcp);
	\draw[arrow] (sigtrans) .. controls (6260,300) and (6100,230) .. (cellproc);
	\draw[arrow] (pstab) -- (rps);
	\draw[arrow] (prbp) -- (rbp);
	\draw[arrow] (rccp) -- (rcc);
	\draw[arrow] (ccdis) -- (cco);
	\draw[arrow] (pcco) -- (cco);
	\draw[arrow] (prcpp) -- (rcpp);
	\draw[arrow] (prcpp) -- (prcp);
	\draw[arrow] (ist) -- (sigtrans);
	\draw[arrow] (prccomm) -- (rccomm);
	\draw[arrow] (prccomm) -- (prcp);
	\draw[arrow] (rst) -- (rccomm);
	\draw[arrow] (rst) -- (rsig);
	\draw[arrow] (rst) -- (rrstim);
	\draw[arrow] (rg1g0) -- (rccp);
	\draw[arrow] (pccdis) -- (ccdis);
	\draw[arrow] (pccdis) -- (pcco);
	\draw[arrow] (pdcso) -- (pcco);
	\draw[arrow] (stp53) -- (ist);
	\draw[arrow] (rist) -- (rst);
	\draw[arrow] (prst) -- (rst);
	\draw[arrow] (prst) -- (prccomm);
	\draw[arrow] (prst) -- (prsig);
	\draw[arrow] (prst) -- (prrstim);
	\draw[arrow] (pdnadis) -- (pccdis);
	\draw[arrow] (pdnadis) -- (pdcso);
	\draw[arrow] (rstp53) -- (rist);
	\draw[arrow] (prist) -- (rist);
	\draw[arrow] (prist) -- (prst);
	\draw[arrow] (prstp53) -- (rstp53);
	\draw[arrow] (prstp53) -- (prist);
	\draw[arrow] (rmf) .. controls (6090,700) and (6030,250) .. (bioreg);
	\draw[arrow] (nrmf) -- (rmf);
	\draw[arrow] (rca) -- (rmf);
	\draw[arrow] (nrca) -- (nrmf);
	\draw[arrow] (nrca) -- (rca);
	\draw[arrow] (rta) -- (rca);
	\draw[arrow] (nrta) -- (nrca);
	\draw[arrow] (nrta) -- (rta);
	\draw[arrow] (rupta) -- (rta);
	\draw[arrow] (nrupta) -- (nrta);
	\draw[arrow] (nrupta) -- (rupta);
	\draw[arrow] (nrupta) -- (nrprotubiq);
	\draw[arrow] (rupla) -- (rupta);
	\draw[arrow] (nrupla) -- (nrupta);
	\draw[arrow] (nrupla) -- (rupla);
	\draw[regline] (rcp) -- (cellproc);
	\draw[regline] (rcc) -- (cellcycle);
	\draw[regline] (rcpp) -- (cpp);
	\draw[regline] (rccomm) -- (cellcomm);
	\draw[regline] (rccp) -- (ccproc);
	\draw[regline] (rg1g0) -- (g1g0);
	\draw[regline] (rst) -- (sigtrans);
	\draw[regline] (rist) -- (ist);
	\draw[regline] (rstp53) -- (stp53);
	\draw[regline] (rsig) -- (signaling);
	\draw[partof] (ccproc) -- (cellcycle);
	\draw[partof] (sigtrans) -- (cellcomm);
	\draw[partof] (sigtrans) -- (signaling);
	\draw[partof] (sigtrans) -- (crstim);
	\draw[posline] (prcp) .. controls (5990,290) and (5950,230) .. (cellproc);
	\draw[posline] (prcpp) .. controls (5800,440) and (5785,360) .. (cpp);
	\draw[posline] (prst) .. controls (6555,480) and (6480,420) .. (sigtrans);
	\draw[posline] (prist) .. controls (6405,580) and (6300,520) .. (ist);
	\draw[posline] (prstp53) .. controls (6180,700) and (6172,640) .. (stp53);
	\draw[posline] (prsig) .. controls (6700,360) and (6600,310) .. (signaling);
	%----------------------------------------------------%
	% response to stimulus
	\draw[arrow] (crstim) -- (respstim);
	\draw[arrow] (crstim) .. controls (6600,245) and (6100,235) .. (cellproc);
	\draw[arrow] (rrstim) -- (rbp);
	\draw[arrow] (prrstim) -- (rrstim);
	\draw[arrow] (prrstim) -- (prbp);
	\draw[arrow] (rendo) -- (respstim);
	\draw[arrow] (rchem) -- (respstim);
	\draw[arrow] (rsig) .. controls (6560,360) and (6420,300) .. (rbp);
	\draw[arrow] (prsig) -- (rsig);
	\draw[arrow] (prsig) .. controls (6700,400) and (6650,330) .. (prbp);
	\draw[arrow] (crendo) .. controls (6960,420) and (6995,360) .. (rendo);
	\draw[arrow] (rorg) -- (rchem);
	\draw[arrow] (rnitro) -- (rchem);
	\draw[arrow] (crchem) -- (rchem);
	\draw[arrow] (crchem) .. controls (7200,335) and (6900,330) .. (crstim);
	\draw[arrow] (roxy) -- (rchem);
	\draw[arrow] (ranti) -- (rchem);
	\draw[arrow] (crorg) -- (rorg);
	\draw[arrow] (crorg) -- (crchem);
	\draw[arrow] (ronc) -- (rorg);
	\draw[arrow] (ronc) -- (rnitro);
	\draw[arrow] (crnitro) -- (rnitro);
	\draw[arrow] (crnitro) -- (crchem);
	\draw[arrow] (croxy) -- (crchem);
	\draw[arrow] (croxy) -- (roxy);
	\draw[arrow] (cranti) -- (ranti);
	\draw[arrow] (cranti) -- (crchem);
	\draw[arrow] (cronc) -- (crorg);
	\draw[arrow] (cronc) -- (ronc);
	\draw[arrow] (cronc) -- (crnitro);
	\draw[arrow] (cronc) -- (crendo);
	\draw[arrow] (rpep) -- (ronc);
	\draw[arrow] (rpep) .. controls (7500,480) and (7495,430) .. (roxy);
	\draw[arrow] (crpep) -- (rpep);
	\draw[arrow] (crpep) -- (cronc);
	\draw[arrow] (crpep) -- (croxy);
	\draw[arrow] (ractd) -- (rpep);
	\draw[arrow] (ractd) .. controls (7670,560) and (7670,440) .. (ranti);
	\draw[arrow] (cractd) -- (crpep);
	\draw[arrow] (cractd) -- (ractd);
	\draw[arrow] (cractd) .. controls (7605,700) and (7605,560) .. (cranti);
	\draw[regline] (rrstim) -- (respstim);
	\draw[posline] (prrstim) -- (respstim);
	\end{pgfonlayer}
\end{tikzpicture}
\end{document}
